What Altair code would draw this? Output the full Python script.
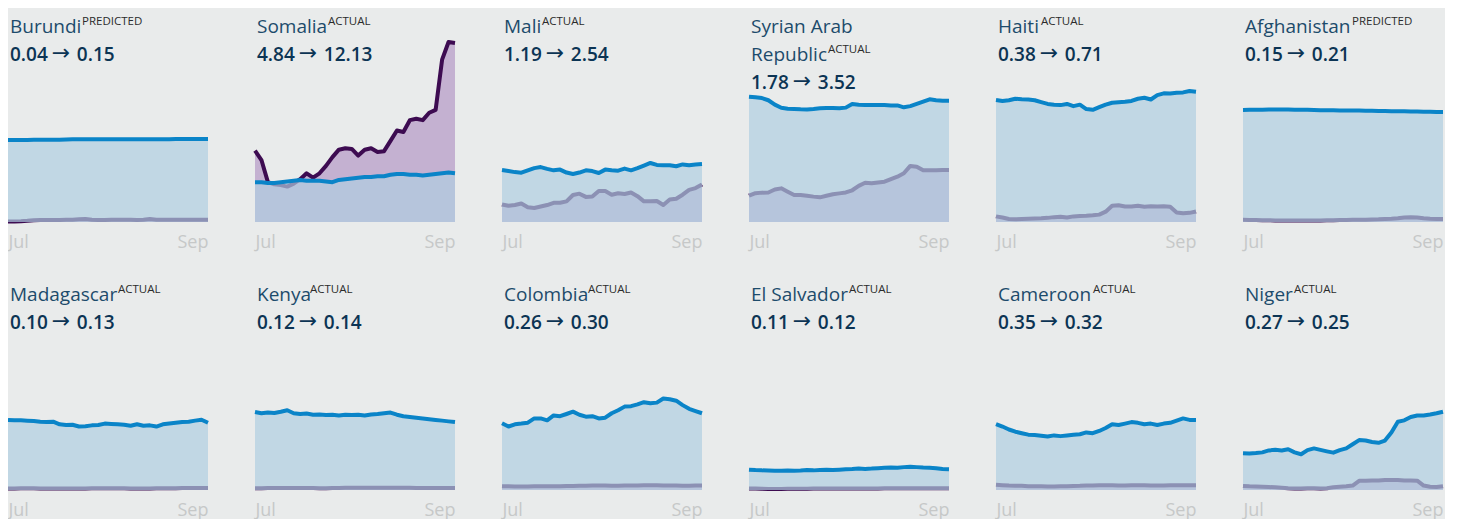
import altair as alt
import pandas as pd

DATES = [d.strftime("%Y-%m-%dT00:00:00") for d in pd.date_range("2023-07-01", periods=32, freq="2D")]

COUNTRIES = ["Burundi", "Somalia", "Mali", "Syrian Arab Republic", "Haiti", "Afghanistan",
             "Madagascar", "Kenya", "Colombia", "El Salvador", "Cameroon", "Niger"]
NAME_LINES = [["Burundi"], ["Somalia"], ["Mali"], ["Syrian Arab", "Republic"], ["Haiti"], ["Afghanistan"],
              ["Madagascar"], ["Kenya"], ["Colombia"], ["El Salvador"], ["Cameroon"], ["Niger"]]
TAGS = ["PREDICTED", "ACTUAL", "ACTUAL", "ACTUAL", "ACTUAL", "PREDICTED",
        "ACTUAL", "ACTUAL", "ACTUAL", "ACTUAL", "ACTUAL", "ACTUAL"]
START_VALUES = ["0.04", "4.84", "1.19", "1.78", "0.38", "0.15", "0.10", "0.12", "0.26", "0.11", "0.35", "0.27"]
END_VALUES = ["0.15", "12.13", "2.54", "3.52", "0.71", "0.21", "0.13", "0.14", "0.30", "0.12", "0.32", "0.25"]

# actual series (purple)
ACTUAL = {
    "Burundi": [0.04, 0.03, 0.05, 0.08, 0.12, 0.13, 0.13, 0.14, 0.14, 0.15, 0.16, 0.18, 0.2, 0.15, 0.14, 0.14,
                0.15, 0.16, 0.15, 0.15, 0.14, 0.15, 0.2, 0.16, 0.15, 0.15, 0.15, 0.15, 0.15, 0.15, 0.15, 0.15],
    "Somalia": [4.84, 4.2, 2.7, 2.55, 2.5, 2.4, 2.6, 2.9, 3.3, 3.0, 3.3, 3.8, 4.4, 4.9, 5.0, 4.95,
                4.5, 4.9, 5.0, 4.75, 4.8, 5.5, 6.2, 6.1, 6.9, 7.0, 6.9, 7.4, 7.6, 11.0, 12.2, 12.13],
    "Mali": [1.19, 1.1, 1.15, 1.25, 1.0, 0.95, 1.05, 1.15, 1.3, 1.3, 1.4, 1.83, 1.92, 1.7, 1.72, 2.1,
             2.1, 1.85, 1.95, 1.9, 2.0, 1.75, 1.4, 1.4, 1.42, 1.15, 1.52, 1.58, 1.85, 2.18, 2.3, 2.54],
    "Syrian Arab Republic": [1.78, 1.95, 1.99, 2.0, 2.2, 2.28, 2.05, 1.83, 1.83, 1.78, 1.72, 1.67, 1.78, 1.88,
                             1.94, 2.0, 2.15, 2.45, 2.66, 2.62, 2.68, 2.73, 2.9, 3.07, 3.3, 3.8, 3.75, 3.5,
                             3.5, 3.5, 3.52, 3.52],
    "Haiti": [0.38, 0.3, 0.2, 0.18, 0.2, 0.22, 0.24, 0.25, 0.28, 0.33, 0.36, 0.3, 0.38, 0.41, 0.42, 0.45,
              0.5, 0.7, 1.1, 1.13, 1.05, 1.05, 1.1, 1.04, 1.06, 1.05, 1.07, 1.04, 0.65, 0.6, 0.62, 0.71],
    "Afghanistan": [0.15, 0.14, 0.13, 0.12, 0.12, 0.11, 0.11, 0.1, 0.1, 0.1, 0.1, 0.1, 0.11, 0.12, 0.12, 0.13,
                    0.14, 0.15, 0.15, 0.16, 0.17, 0.18, 0.2, 0.22, 0.25, 0.3, 0.32, 0.3, 0.25, 0.22, 0.21, 0.21],
    "Madagascar": [0.10, 0.11, 0.12, 0.12, 0.12, 0.11, 0.1, 0.1, 0.1, 0.1, 0.1, 0.1, 0.11, 0.12, 0.12, 0.12,
                   0.12, 0.12, 0.12, 0.11, 0.11, 0.11, 0.11, 0.12, 0.12, 0.12, 0.12, 0.13, 0.13, 0.13, 0.13, 0.13],
    "Kenya": [0.12, 0.12, 0.13, 0.13, 0.14, 0.14, 0.14, 0.13, 0.13, 0.13, 0.12, 0.12, 0.13, 0.14, 0.15, 0.16,
              0.16, 0.15, 0.15, 0.15, 0.15, 0.16, 0.16, 0.15, 0.15, 0.14, 0.14, 0.14, 0.14, 0.14, 0.14, 0.14],
    "Colombia": [0.26, 0.25, 0.24, 0.24, 0.24, 0.25, 0.25, 0.26, 0.26, 0.26, 0.27, 0.27, 0.28, 0.29, 0.3, 0.3,
                 0.3, 0.29, 0.29, 0.3, 0.3, 0.31, 0.32, 0.33, 0.32, 0.31, 0.3, 0.3, 0.29, 0.29, 0.3, 0.3],
    "El Salvador": [0.11, 0.1, 0.08, 0.07, 0.07, 0.07, 0.08, 0.08, 0.09, 0.09, 0.1, 0.1, 0.1, 0.1, 0.1, 0.1,
                    0.11, 0.11, 0.11, 0.11, 0.11, 0.12, 0.12, 0.12, 0.12, 0.12, 0.12, 0.12, 0.12, 0.12, 0.12, 0.12],
    "Cameroon": [0.35, 0.33, 0.3, 0.28, 0.28, 0.26, 0.25, 0.25, 0.24, 0.24, 0.25, 0.25, 0.27, 0.28, 0.3, 0.3,
                 0.32, 0.33, 0.32, 0.3, 0.3, 0.32, 0.33, 0.32, 0.3, 0.3, 0.31, 0.32, 0.33, 0.32, 0.32, 0.32],
    "Niger": [0.27, 0.25, 0.24, 0.22, 0.2, 0.18, 0.15, 0.12, 0.1, 0.1, 0.12, 0.12, 0.1, 0.12, 0.18, 0.22,
              0.25, 0.3, 0.62, 0.63, 0.64, 0.65, 0.67, 0.68, 0.68, 0.65, 0.64, 0.63, 0.3, 0.22, 0.2, 0.25],
}

# reference series (blue)
REFERENCE = {
    "Burundi": [5.55, 5.55, 5.56, 5.56, 5.57, 5.57, 5.58, 5.58, 5.58, 5.59, 5.6, 5.6, 5.6, 5.6, 5.6, 5.6,
                5.61, 5.6, 5.6, 5.6, 5.61, 5.61, 5.6, 5.6, 5.61, 5.61, 5.62, 5.62, 5.62, 5.62, 5.62, 5.62],
    "Somalia": [2.7, 2.7, 2.65, 2.65, 2.7, 2.75, 2.8, 2.85, 2.8, 2.8, 2.8, 2.75, 2.7, 2.85, 2.9, 2.95,
                3.0, 3.05, 3.05, 3.1, 3.1, 3.2, 3.25, 3.25, 3.2, 3.2, 3.15, 3.2, 3.25, 3.3, 3.35, 3.3],
    "Mali": [3.52, 3.45, 3.38, 3.34, 3.5, 3.65, 3.72, 3.6, 3.5, 3.55, 3.35, 3.25, 3.35, 3.5, 3.45, 3.32,
             3.55, 3.5, 3.48, 3.62, 3.5, 3.65, 3.82, 4.0, 3.87, 3.85, 3.85, 3.78, 3.9, 3.85, 3.9, 3.93],
    "Syrian Arab Republic": [8.49, 8.45, 8.4, 8.25, 7.95, 7.74, 7.68, 7.66, 7.64, 7.63, 7.66, 7.7, 7.72, 7.72,
                             7.7, 7.75, 8.0, 7.95, 7.93, 7.93, 7.92, 7.92, 7.9, 7.9, 7.77, 7.85, 8.0, 8.15,
                             8.31, 8.25, 8.22, 8.22],
    "Haiti": [8.27, 8.2, 8.25, 8.35, 8.32, 8.3, 8.25, 8.12, 8.0, 7.95, 7.92, 8.0, 7.85, 7.95, 7.65, 7.6,
              7.78, 7.95, 8.08, 8.12, 8.15, 8.2, 8.35, 8.42, 8.3, 8.6, 8.72, 8.7, 8.76, 8.78, 8.88, 8.83],
    "Afghanistan": [7.59, 7.6, 7.6, 7.61, 7.62, 7.62, 7.62, 7.62, 7.61, 7.6, 7.6, 7.59, 7.58, 7.58, 7.57, 7.56,
                    7.56, 7.55, 7.55, 7.54, 7.53, 7.52, 7.52, 7.51, 7.5, 7.5, 7.49, 7.48, 7.47, 7.47, 7.46, 7.46],
    "Madagascar": [4.74, 4.72, 4.72, 4.7, 4.68, 4.63, 4.6, 4.63, 4.45, 4.4, 4.42, 4.3, 4.32, 4.38, 4.4, 4.5,
                   4.48, 4.45, 4.42, 4.35, 4.45, 4.35, 4.38, 4.3, 4.45, 4.5, 4.55, 4.6, 4.62, 4.7, 4.76, 4.56],
    "Kenya": [5.28, 5.2, 5.25, 5.22, 5.3, 5.4, 5.2, 5.15, 5.18, 5.1, 5.12, 5.08, 5.1, 5.05, 5.1, 5.08,
              5.1, 5.05, 5.12, 5.15, 5.2, 5.25, 5.1, 5.0, 4.95, 4.9, 4.85, 4.8, 4.75, 4.7, 4.65, 4.6],
    "Colombia": [4.52, 4.3, 4.45, 4.5, 4.56, 4.85, 4.85, 4.72, 5.05, 5.0, 5.15, 5.31, 5.1, 4.97, 5.0, 4.85,
                 4.9, 5.2, 5.4, 5.65, 5.68, 5.8, 5.95, 5.88, 5.92, 6.2, 6.15, 6.05, 5.75, 5.5, 5.35, 5.2],
    "El Salvador": [1.38, 1.35, 1.33, 1.32, 1.3, 1.3, 1.32, 1.3, 1.32, 1.35, 1.33, 1.36, 1.38, 1.36, 1.38, 1.4,
                    1.42, 1.45, 1.43, 1.45, 1.48, 1.5, 1.52, 1.5, 1.55, 1.58, 1.55, 1.52, 1.5, 1.48, 1.42, 1.4],
    "Cameroon": [4.47, 4.3, 4.1, 3.95, 3.85, 3.75, 3.72, 3.68, 3.62, 3.7, 3.65, 3.7, 3.75, 3.78, 3.9, 3.85,
                 4.0, 4.2, 4.45, 4.4, 4.5, 4.6, 4.55, 4.45, 4.5, 4.4, 4.5, 4.55, 4.7, 4.85, 4.75, 4.74],
    "Niger": [2.49, 2.47, 2.5, 2.55, 2.68, 2.72, 2.68, 2.76, 2.55, 2.42, 2.7, 2.82, 2.72, 2.62, 2.53, 2.7,
              2.82, 3.1, 3.38, 3.35, 3.25, 3.2, 3.35, 3.9, 4.63, 4.72, 4.95, 5.05, 5.05, 5.12, 5.2, 5.3],
}

# x offset of the superscript tag inside each panel (px)
TAG_X = [74, 73, 40, 79, 45, 109, 110, 55, 86, 100, 97, 51]

BG = "#e9ebeb"
FONT = "Open Sans"
PANEL_W, PANEL_H = 200, 214
DIGIT_W, DOT_W = 10.87, 5.2   # approx. advance widths of the subtitle font (px)

x_scale = alt.Scale(domain=[alt.DateTime(year=2023, month=7, date=1),
                            alt.DateTime(year=2023, month=9, date=1)], nice=False)
x_axis = alt.Axis(values=[alt.DateTime(year=2023, month=7, date=1),
                          alt.DateTime(year=2023, month=9, date=1)],
                  format="%b", title=None, domain=False, ticks=False, grid=False,
                  labelFont=FONT, labelFontSize=18, labelColor="#c6c8c8", labelPadding=11,
                  labelFlush=True)
y_scale = alt.Scale(domain=[0, 14.5], nice=False, zero=True)

one = pd.DataFrame({"k": [0]})


def text_layer(s, x, y, size, color, weight="normal", font=FONT):
    return alt.Chart(one).mark_text(align="left", baseline="alphabetic", font=font, fontSize=size,
                                    color=color, fontWeight=weight).encode(
        x=alt.value(x), y=alt.value(y), text=alt.value(s))


def text_width(s):
    return sum(DOT_W if ch == "." else DIGIT_W for ch in s)


def panel(i):
    c = COUNTRIES[i]
    df = pd.DataFrame({"date": DATES, "actual": ACTUAL[c], "reference": REFERENCE[c]})
    base = alt.Chart(df).encode(x=alt.X("date:T", scale=x_scale, axis=x_axis))
    ya = alt.Y("actual:Q", scale=y_scale, axis=None)
    yr = alt.Y("reference:Q", scale=y_scale, axis=None)
    layers = [
        base.mark_area(color="#c4b1d1").encode(y=ya),
        base.mark_line(color="#3d0b51", strokeWidth=4, strokeJoin="round").encode(y=ya),
        base.mark_area(color="#afcee1", opacity=0.69).encode(y=yr),
        base.mark_line(color="#0a84c8", strokeWidth=4, strokeJoin="round").encode(y=yr),
    ]
    lines = NAME_LINES[i]
    for k, ln in enumerate(lines):
        layers.append(text_layer(ln, 2, 25 + 28 * k, 19, "#1d4b6b"))
    last = 25 + 28 * (len(lines) - 1)
    layers.append(text_layer(TAGS[i], TAG_X[i], last - 8, 11.5, "#2b2b2b"))
    sub_y = last + 28
    w = text_width(START_VALUES[i])
    arrow_x = 2 + w + 4
    layers.append(text_layer(START_VALUES[i], 2, sub_y, 19, "#0c3454", 600))
    layers.append(text_layer("\u2192", arrow_x, sub_y - 1, 22, "#0c3454", "normal", "DejaVu Sans"))
    layers.append(text_layer(END_VALUES[i], arrow_x + 25, sub_y, 19, "#0c3454", 600))
    return alt.layer(*layers).properties(width=PANEL_W, height=PANEL_H)


panels = [panel(i) for i in range(12)]
row1 = alt.hconcat(*panels[:6], spacing=47, bounds="flush")
row2 = alt.hconcat(*panels[6:], spacing=47, bounds="flush")
chart = alt.vconcat(row1, row2, spacing=25).properties(
    padding={"left": -2, "top": 0, "right": 0, "bottom": 0}, background=BG
).configure_view(strokeWidth=0)

chart.save("out.html", embed_options={"renderer": "svg", "actions": False})
